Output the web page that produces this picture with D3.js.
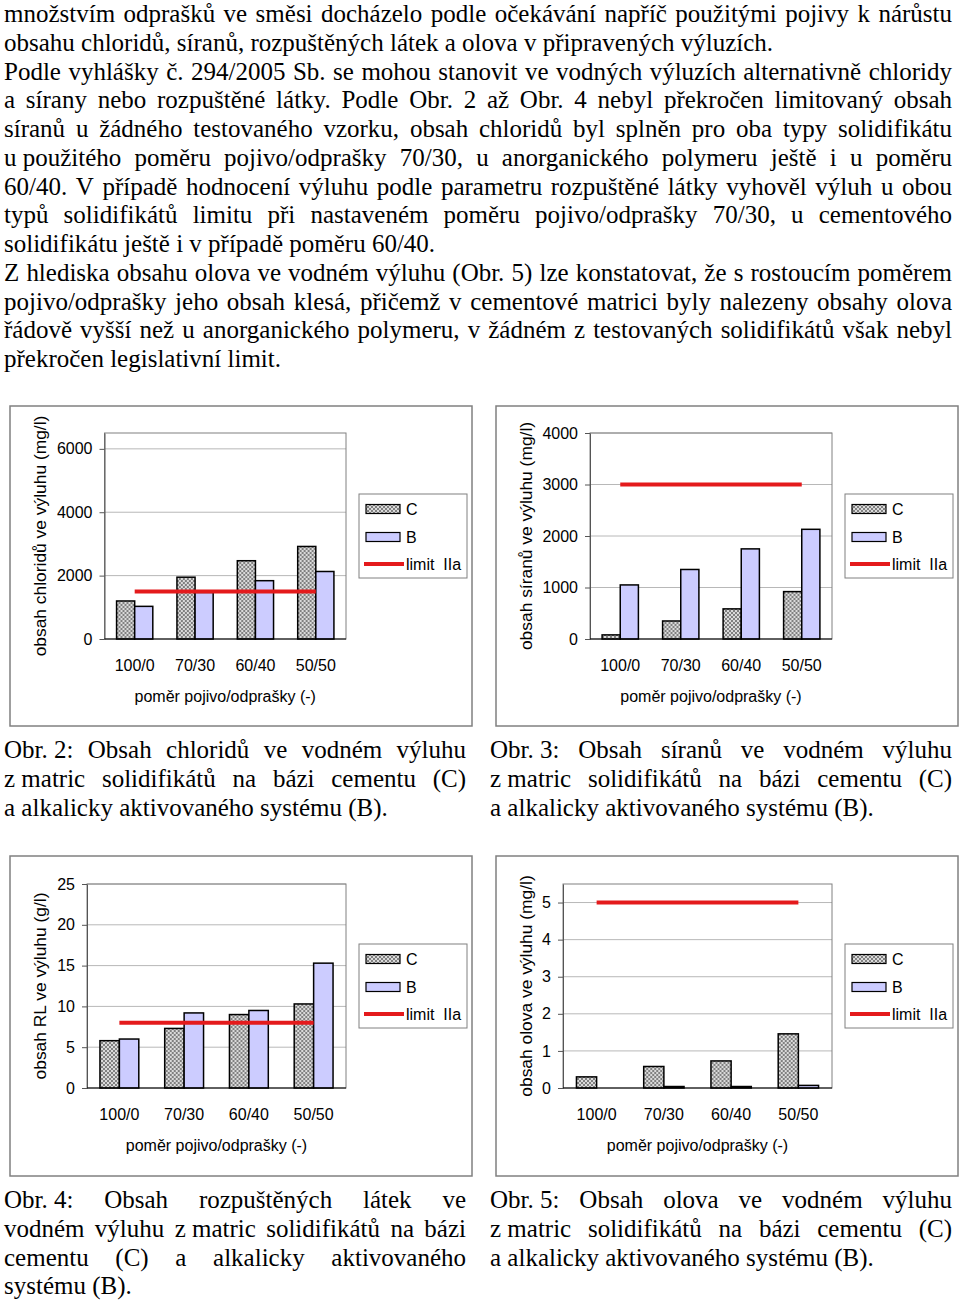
<!DOCTYPE html>
<html>
<head>
<meta charset="utf-8">
<script src="https://cdn.jsdelivr.net/npm/d3@7"></script>
<style>
  body { margin: 0; background: #fff; }
  svg { display: block; }
  .body-text { font-family: "Liberation Serif", "Times New Roman", serif; font-size: 25px; fill: #000; }
  .chart-text { font-family: "Liberation Sans", Arial, sans-serif; font-size: 16px; fill: #000; }
  .ytitle { font-size: 17.4px; }
</style>
</head>
<body>
<svg id="page" width="960" height="1301"></svg>
<script>
// --- data ---
const categories = ["100/0", "70/30", "60/40", "50/50"];
const seriesNames = ["C", "B", "limit  IIa"];

const chloridyC = [1200, 1950, 2470, 2920];
const chloridyB = [1030, 1470, 1840, 2130];
const chloridyLimit = 1500;
const chloridyTicks = [0, 2000, 4000, 6000];

const siranyC = [80, 350, 585, 920];
const siranyB = [1050, 1350, 1750, 2130];
const siranyLimit = 3000;
const siranyTicks = [0, 1000, 2000, 3000, 4000];

const rlC = [5.8, 7.3, 9.0, 10.3];
const rlB = [6.0, 9.2, 9.5, 15.3];
const rlLimit = 8;
const rlTicks = [0, 5, 10, 15, 20, 25];

const olovoC = [0.3, 0.58, 0.73, 1.46];
const olovoB = [0, 0.04, 0.04, 0.07];
const olovoLimit = 5;
const olovoTicks = [0, 1, 2, 3, 4, 5];

const xTitle = "poměr pojivo/odprašky (-)";

// paragraph lines: [text, justified?]
const bodyLines = [
  ["množstvím odprašků ve směsi docházelo podle očekávání napříč použitými pojivy k nárůstu", true],
  ["obsahu chloridů, síranů, rozpuštěných látek a olova v připravených výluzích.", false],
  ["Podle vyhlášky č. 294/2005 Sb. se mohou stanovit ve vodných výluzích alternativně chloridy", true],
  ["a sírany nebo rozpuštěné látky. Podle Obr. 2 až Obr. 4 nebyl překročen limitovaný obsah", true],
  ["síranů u žádného testovaného vzorku, obsah chloridů byl splněn pro oba typy solidifikátu", true],
  ["u\u00a0použitého poměru pojivo/odprašky 70/30, u anorganického polymeru ještě i u poměru", true],
  ["60/40. V případě hodnocení výluhu podle parametru rozpuštěné látky vyhověl výluh u obou", true],
  ["typů solidifikátů limitu při nastaveném poměru pojivo/odprašky 70/30, u cementového", true],
  ["solidifikátu ještě i v případě poměru 60/40.", false],
  ["Z hlediska obsahu olova ve vodném výluhu (Obr. 5) lze konstatovat, že s rostoucím poměrem", true],
  ["pojivo/odprašky jeho obsah klesá, přičemž v cementové matrici byly nalezeny obsahy olova", true],
  ["řádově vyšší než u anorganického polymeru, v žádném z testovaných solidifikátů však nebyl", true],
  ["překročen legislativní limit.", false]
];

const caption2 = [
  ["Obr.\u00a02: Obsah chloridů ve vodném výluhu", true],
  ["z\u00a0matric solidifikátů na bázi cementu (C)", true],
  ["a alkalicky aktivovaného systému (B).", false]
];
const caption3 = [
  ["Obr.\u00a03: Obsah síranů ve vodném výluhu", true],
  ["z\u00a0matric solidifikátů na bázi cementu (C)", true],
  ["a alkalicky aktivovaného systému (B).", false]
];
const caption4 = [
  ["Obr.\u00a04: Obsah rozpuštěných látek ve", true],
  ["vodném výluhu z\u00a0matric solidifikátů na bázi", true],
  ["cementu (C) a alkalicky aktivovaného", true],
  ["systému (B).", false]
];
const caption5 = [
  ["Obr.\u00a05: Obsah olova ve vodném výluhu", true],
  ["z\u00a0matric solidifikátů na bázi cementu (C)", true],
  ["a alkalicky aktivovaného systému (B).", false]
];

const svg = d3.select("#page");
const stretchY = 1.04;

// dotted pattern for C bars
const defs = svg.append("defs");
const pat = defs.append("pattern")
  .attr("id", "checker")
  .attr("patternUnits", "userSpaceOnUse")
  .attr("width", 4).attr("height", 4);
pat.append("rect").attr("width", 4).attr("height", 4).attr("fill", "#dadada");
pat.append("circle").attr("cx", 1).attr("cy", 1).attr("r", 0.95).attr("fill", "#5a5a5a");
pat.append("circle").attr("cx", 3).attr("cy", 3).attr("r", 0.95).attr("fill", "#5a5a5a");

function textBlock(lines, x, firstBase, width, lineH) {
  lines.forEach((ln, i) => {
    const g = svg.append("g")
      .attr("transform", "translate(" + x + "," + (firstBase + i * lineH) + ") scale(1," + stretchY + ")");
    if (!ln[1]) {
      g.append("text").attr("class", "body-text").text(ln[0]);
      return;
    }
    const words = ln[0].split(" ");
    const nodes = words.map(w => g.append("text").attr("class", "body-text").text(w));
    const widths = nodes.map(n => n.node().getComputedTextLength());
    const total = d3.sum(widths);
    const gap = (width - total) / (words.length - 1);
    let cx = 0;
    nodes.forEach((n, j) => { n.attr("x", cx); cx += widths[j] + gap; });
  });
}

textBlock(bodyLines, 4, 22, 948, 28.75);
textBlock(caption2, 4, 758, 462, 28.8);
textBlock(caption3, 490, 758, 462, 28.8);
textBlock(caption4, 4, 1208, 462, 28.8);
textBlock(caption5, 490, 1208, 462, 28.8);

// --- charts ---
function barChart(cfg) {
  const g = svg.append("g");
  const box = cfg.box;
  g.append("rect")
    .attr("x", box.x).attr("y", box.y).attr("width", box.w).attr("height", box.h)
    .attr("fill", "#fff").attr("stroke", "#808080").attr("stroke-width", 1.5);

  const p = cfg.plot;
  const x = d3.scaleBand().domain(categories).range([p.l, p.r]);
  const y = d3.scaleLinear().domain([0, cfg.yMax]).range([p.b, p.t]);
  const inner = d3.scaleBand().domain(["C", "B"])
    .range([x.bandwidth() * 0.2, x.bandwidth() * 0.8]);

  // gridlines
  g.append("g").selectAll("line").data(cfg.ticks.filter(t => t > 0)).join("line")
    .attr("x1", p.l).attr("x2", p.r)
    .attr("y1", d => y(d)).attr("y2", d => y(d))
    .attr("stroke", "#b8b8b8").attr("stroke-width", 1);

  // plot border
  g.append("rect")
    .attr("x", p.l).attr("y", p.t).attr("width", p.r - p.l).attr("height", p.b - p.t)
    .attr("fill", "none").attr("stroke", "#808080").attr("stroke-width", 1);

  // y axis
  const yAxis = g.append("g")
    .attr("transform", "translate(" + p.l + ",0)")
    .call(d3.axisLeft(y).tickValues(cfg.ticks).tickFormat(d => String(d))
      .tickSize(5).tickPadding(7).tickSizeOuter(0));
  yAxis.select(".domain").attr("stroke", "#555");
  yAxis.selectAll(".tick line").attr("stroke", "#555");
  yAxis.selectAll(".tick text").attr("class", "chart-text").attr("fill", "#000")
    .style("font-size", "16px").style("font-family", "'Liberation Sans', Arial, sans-serif");

  // bars
  const rows = categories.map((c, i) => ({ cat: c, C: cfg.c[i], B: cfg.b[i] }));
  const grp = g.append("g").selectAll("g").data(rows).join("g")
    .attr("transform", d => "translate(" + x(d.cat) + ",0)");
  grp.selectAll("rect").data(d => [{ k: "C", v: d.C }, { k: "B", v: d.B }]).join("rect")
    .attr("x", d => inner(d.k))
    .attr("width", inner.bandwidth())
    .attr("y", d => y(d.v))
    .attr("height", d => y(0) - y(d.v))
    .attr("fill", d => d.k === "C" ? "url(#checker)" : "#ccccff")
    .attr("stroke", "#000").attr("stroke-width", 1.5);

  // x axis line
  g.append("line").attr("x1", p.l).attr("x2", p.r).attr("y1", p.b).attr("y2", p.b)
    .attr("stroke", "#000").attr("stroke-width", 1.2);

  // limit line
  const lx = categories.map(c => x(c) + x.bandwidth() / 2);
  g.append("path")
    .attr("d", d3.line()([[lx[0], y(cfg.limit)], [lx[lx.length - 1], y(cfg.limit)]]))
    .attr("stroke", "#e41a1c").attr("stroke-width", 4).attr("fill", "none");

  // x tick labels
  g.append("g").selectAll("text").data(categories).join("text")
    .attr("class", "chart-text")
    .attr("x", d => x(d) + x.bandwidth() / 2).attr("y", p.b + 32)
    .attr("text-anchor", "middle").text(d => d);

  g.append("text").attr("class", "chart-text")
    .attr("x", (p.l + p.r) / 2).attr("y", p.b + 63)
    .attr("text-anchor", "middle").text(xTitle);

  // y title, clipped at the top like in the source
  const clipId = "clip" + cfg.id;
  defs.append("clipPath").attr("id", clipId).append("rect")
    .attr("x", box.x).attr("y", cfg.clipTop).attr("width", 80).attr("height", box.y + box.h - cfg.clipTop);
  g.append("g").attr("clip-path", "url(#" + clipId + ")")
    .append("text").attr("class", "chart-text ytitle")
    .attr("transform", "translate(" + (box.x + 36) + "," + ((p.t + p.b) / 2) + ") rotate(-90)")
    .attr("text-anchor", "middle").text(cfg.yTitle);

  // legend
  const lg = g.append("g").attr("transform", "translate(" + (box.x + 349) + "," + (box.y + 88) + ")");
  lg.append("rect").attr("width", 108).attr("height", 84)
    .attr("fill", "#fff").attr("stroke", "#808080").attr("stroke-width", 1);
  const rowsY = [15, 43, 70];
  lg.append("rect").attr("x", 7).attr("y", rowsY[0] - 4.5).attr("width", 34).attr("height", 9)
    .attr("fill", "url(#checker)").attr("stroke", "#000").attr("stroke-width", 1.2);
  lg.append("rect").attr("x", 7).attr("y", rowsY[1] - 4.5).attr("width", 34).attr("height", 9)
    .attr("fill", "#ccccff").attr("stroke", "#000").attr("stroke-width", 1.2);
  lg.append("line").attr("x1", 5).attr("x2", 45).attr("y1", rowsY[2]).attr("y2", rowsY[2])
    .attr("stroke", "#e41a1c").attr("stroke-width", 4);
  lg.selectAll("text.lab").data(seriesNames).join("text")
    .attr("class", "chart-text lab")
    .attr("x", 47).attr("y", (d, i) => rowsY[i] + 6)
    .style("white-space", "pre")
    .text(d => d);
}

barChart({ id: 1, box: { x: 10, y: 406, w: 462, h: 320 }, plot: { l: 104.5, t: 433, r: 346, b: 639 },
  yMax: 6500, ticks: chloridyTicks, c: chloridyC, b: chloridyB, limit: chloridyLimit,
  yTitle: "obsah chloridů ve výluhu (mg/l)", clipTop: 416 });
barChart({ id: 2, box: { x: 496, y: 406, w: 462, h: 320 }, plot: { l: 590, t: 433, r: 832, b: 639 },
  yMax: 4000, ticks: siranyTicks, c: siranyC, b: siranyB, limit: siranyLimit,
  yTitle: "obsah síranů ve výluhu (mg/l)", clipTop: 423 });
barChart({ id: 3, box: { x: 10, y: 856, w: 462, h: 320 }, plot: { l: 87, t: 884, r: 346, b: 1088 },
  yMax: 25, ticks: rlTicks, c: rlC, b: rlB, limit: rlLimit,
  yTitle: "obsah RL ve výluhu (g/l)", clipTop: 891 });
barChart({ id: 4, box: { x: 496, y: 856, w: 462, h: 320 }, plot: { l: 563, t: 884, r: 832, b: 1088 },
  yMax: 5.5, ticks: olovoTicks, c: olovoC, b: olovoB, limit: olovoLimit,
  yTitle: "obsah olova ve výluhu (mg/l)", clipTop: 876 });
</script>
</body>
</html>
